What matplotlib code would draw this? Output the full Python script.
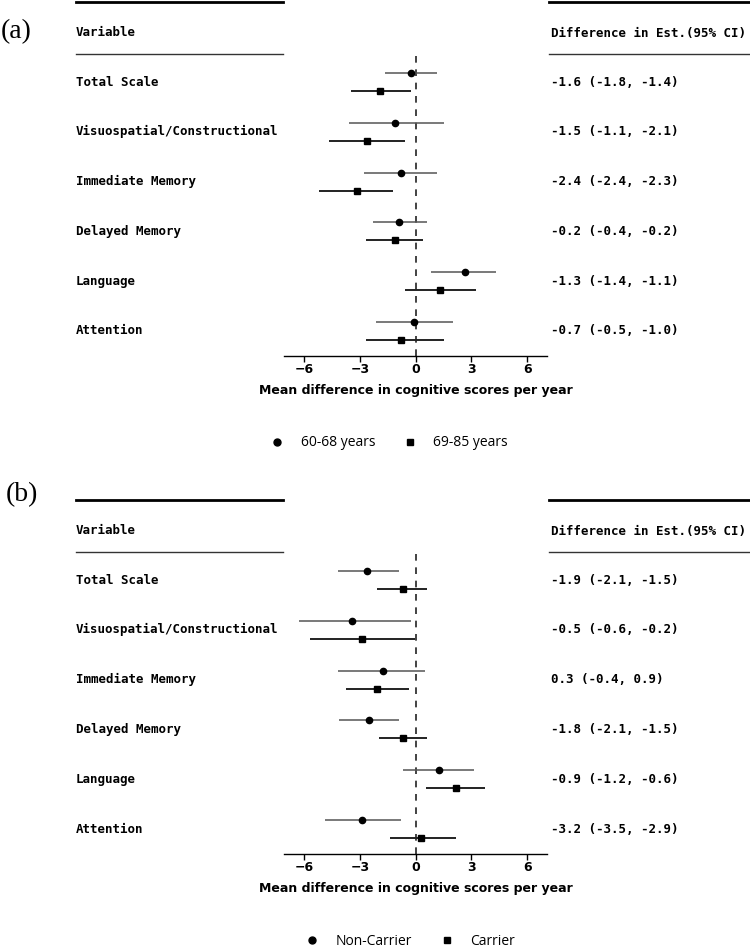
import matplotlib
matplotlib.use('Agg')
import matplotlib.pyplot as plt
import matplotlib.transforms as mtransforms
from matplotlib.lines import Line2D
import numpy as np

variables = ['Total Scale', 'Visuospatial/Constructional', 'Immediate Memory',
             'Delayed Memory', 'Language', 'Attention']

# (a) age groups
a_labels = ['60-68 years', '69-85 years']
a_est1 = [-0.27, -1.11, -0.77, -0.89, 2.65, -0.11]
a_lo1 = [-1.65, -3.61, -2.77, -2.27, 0.80, -2.15]
a_hi1 = [1.13, 1.52, 1.13, 0.63, 4.31, 2.02]
a_est2 = [-1.90, -2.61, -3.17, -1.11, 1.31, -0.77]
a_lo2 = [-3.50, -4.67, -5.19, -2.67, -0.59, -2.67]
a_hi2 = [-0.27, -0.59, -1.20, 0.41, 3.22, 1.52]
a_ci = ['-1.6 (-1.8, -1.4)', '-1.5 (-1.1, -2.1)', '-2.4 (-2.4, -2.3)',
        '-0.2 (-0.4, -0.2)', '-1.3 (-1.4, -1.1)', '-0.7 (-0.5, -1.0)']

# (b) carrier status
b_labels = ['Non-Carrier', 'Carrier']
b_est1 = [-2.61, -3.40, -1.77, -2.50, 1.25, -2.88]
b_lo1 = [-4.15, -6.28, -4.15, -4.10, -0.68, -4.88]
b_hi1 = [-0.89, -0.27, 0.52, -0.89, 3.15, -0.77]
b_est2 = [-0.70, -2.88, -2.09, -0.70, 2.15, 0.30]
b_lo2 = [-2.09, -5.67, -3.76, -1.99, 0.54, -1.36]
b_hi2 = [0.63, -0.05, -0.38, 0.63, 3.72, 2.15]
b_ci = ['-1.9 (-2.1, -1.5)', '-0.5 (-0.6, -0.2)', '0.3 (-0.4, 0.9)',
        '-1.8 (-2.1, -1.5)', '-0.9 (-1.2, -0.6)', '-3.2 (-3.5, -2.9)']

xticks = [-6, -3, 0, 3, 6]

W, H = 750, 947
MONO = 'DejaVu Sans Mono'


def fx(px):
    return px / W


def fy(px):
    return 1 - px / H


def draw_panel(fig, top, tag, tag_pos, est1, lo1, hi1, est2, lo2, hi2, ci_text,
               labels, legend_x):
    ax = fig.add_axes([fx(284), fy(top + 356), fx(547) - fx(284), (356 - 54) / H])
    rows = np.arange(len(variables))
    step = 49.8
    ax.set_ylim((356 - 82) / step, (54 - 82) / step)
    ax.set_xlim(-7.08, 7.06)
    off = 9 / step

    ax.axvline(0, color='#222222', lw=1.2, ls=(0, (4, 4)), zorder=1)
    ax.hlines(rows - off, lo1, hi1, color='#555555', lw=1.1, zorder=2)
    ax.hlines(rows + off, lo2, hi2, color='#222222', lw=1.4, zorder=2)
    ax.plot(est1, rows - off, 'o', color='black', ms=4.5, zorder=3)
    ax.plot(est2, rows + off, 's', color='black', ms=4.5, zorder=3)

    for s in ['left', 'right', 'top']:
        ax.spines[s].set_visible(False)
    ax.spines['bottom'].set_linewidth(1.0)
    ax.set_yticks([])
    ax.set_xticks(xticks)
    ax.tick_params(axis='x', length=4, width=1, labelsize=9, pad=1)
    for t in ax.get_xticklabels():
        t.set_fontweight('bold')
    ax.set_xlabel('Mean difference in cognitive scores per year',
                  fontsize=9, fontweight='bold', labelpad=6)

    # table columns
    trans = mtransforms.blended_transform_factory(fig.transFigure, ax.transData)
    for i, var in enumerate(variables):
        ax.text(fx(76), rows[i], var, transform=trans, ha='left', va='center',
                family=MONO, fontsize=9, fontweight='bold')
        ax.text(fx(551), rows[i], ci_text[i], transform=trans, ha='left', va='center',
                family=MONO, fontsize=9, fontweight='bold')

    fig.text(fx(76), fy(top + 33), 'Variable', ha='left', va='center',
             family=MONO, fontsize=9, fontweight='bold')
    fig.text(fx(551), fy(top + 33), 'Difference in Est.(95% CI)', ha='left', va='center',
             family=MONO, fontsize=9, fontweight='bold')
    fig.text(fx(tag_pos[0]), fy(top + tag_pos[1]), tag, ha='left', va='center',
             family='Liberation Serif', fontsize=20)

    for x0, x1 in [(76, 283), (549, 750)]:
        fig.add_artist(Line2D([fx(x0), fx(x1)], [fy(top + 2), fy(top + 2)],
                              transform=fig.transFigure, color='black', lw=2))
        fig.add_artist(Line2D([fx(x0), fx(x1)], [fy(top + 54), fy(top + 54)],
                              transform=fig.transFigure, color='#333333', lw=1))

    handles = [Line2D([], [], ls='none', marker='o', color='black', ms=5),
               Line2D([], [], ls='none', marker='s', color='black', ms=5)]
    fig.legend(handles, labels, loc='center', bbox_to_anchor=(fx(legend_x), fy(top + 443)),
               ncol=2, frameon=False, handlelength=1,
               handletextpad=1.2, columnspacing=2.0,
               prop={'family': 'Open Sans', 'size': 10})
    return ax


def main():
    fig = plt.figure(figsize=(W / 100, H / 100), dpi=100)
    draw_panel(fig, 0, '(a)', (1, 32), a_est1, a_lo1, a_hi1, a_est2, a_lo2, a_hi2,
               a_ci, a_labels, 389)
    draw_panel(fig, 498, '(b)', (6, -3), b_est1, b_lo1, b_hi1, b_est2, b_lo2, b_hi2,
               b_ci, b_labels, 410)
    fig.savefig('out.png', dpi=100)


if __name__ == '__main__':
    main()
